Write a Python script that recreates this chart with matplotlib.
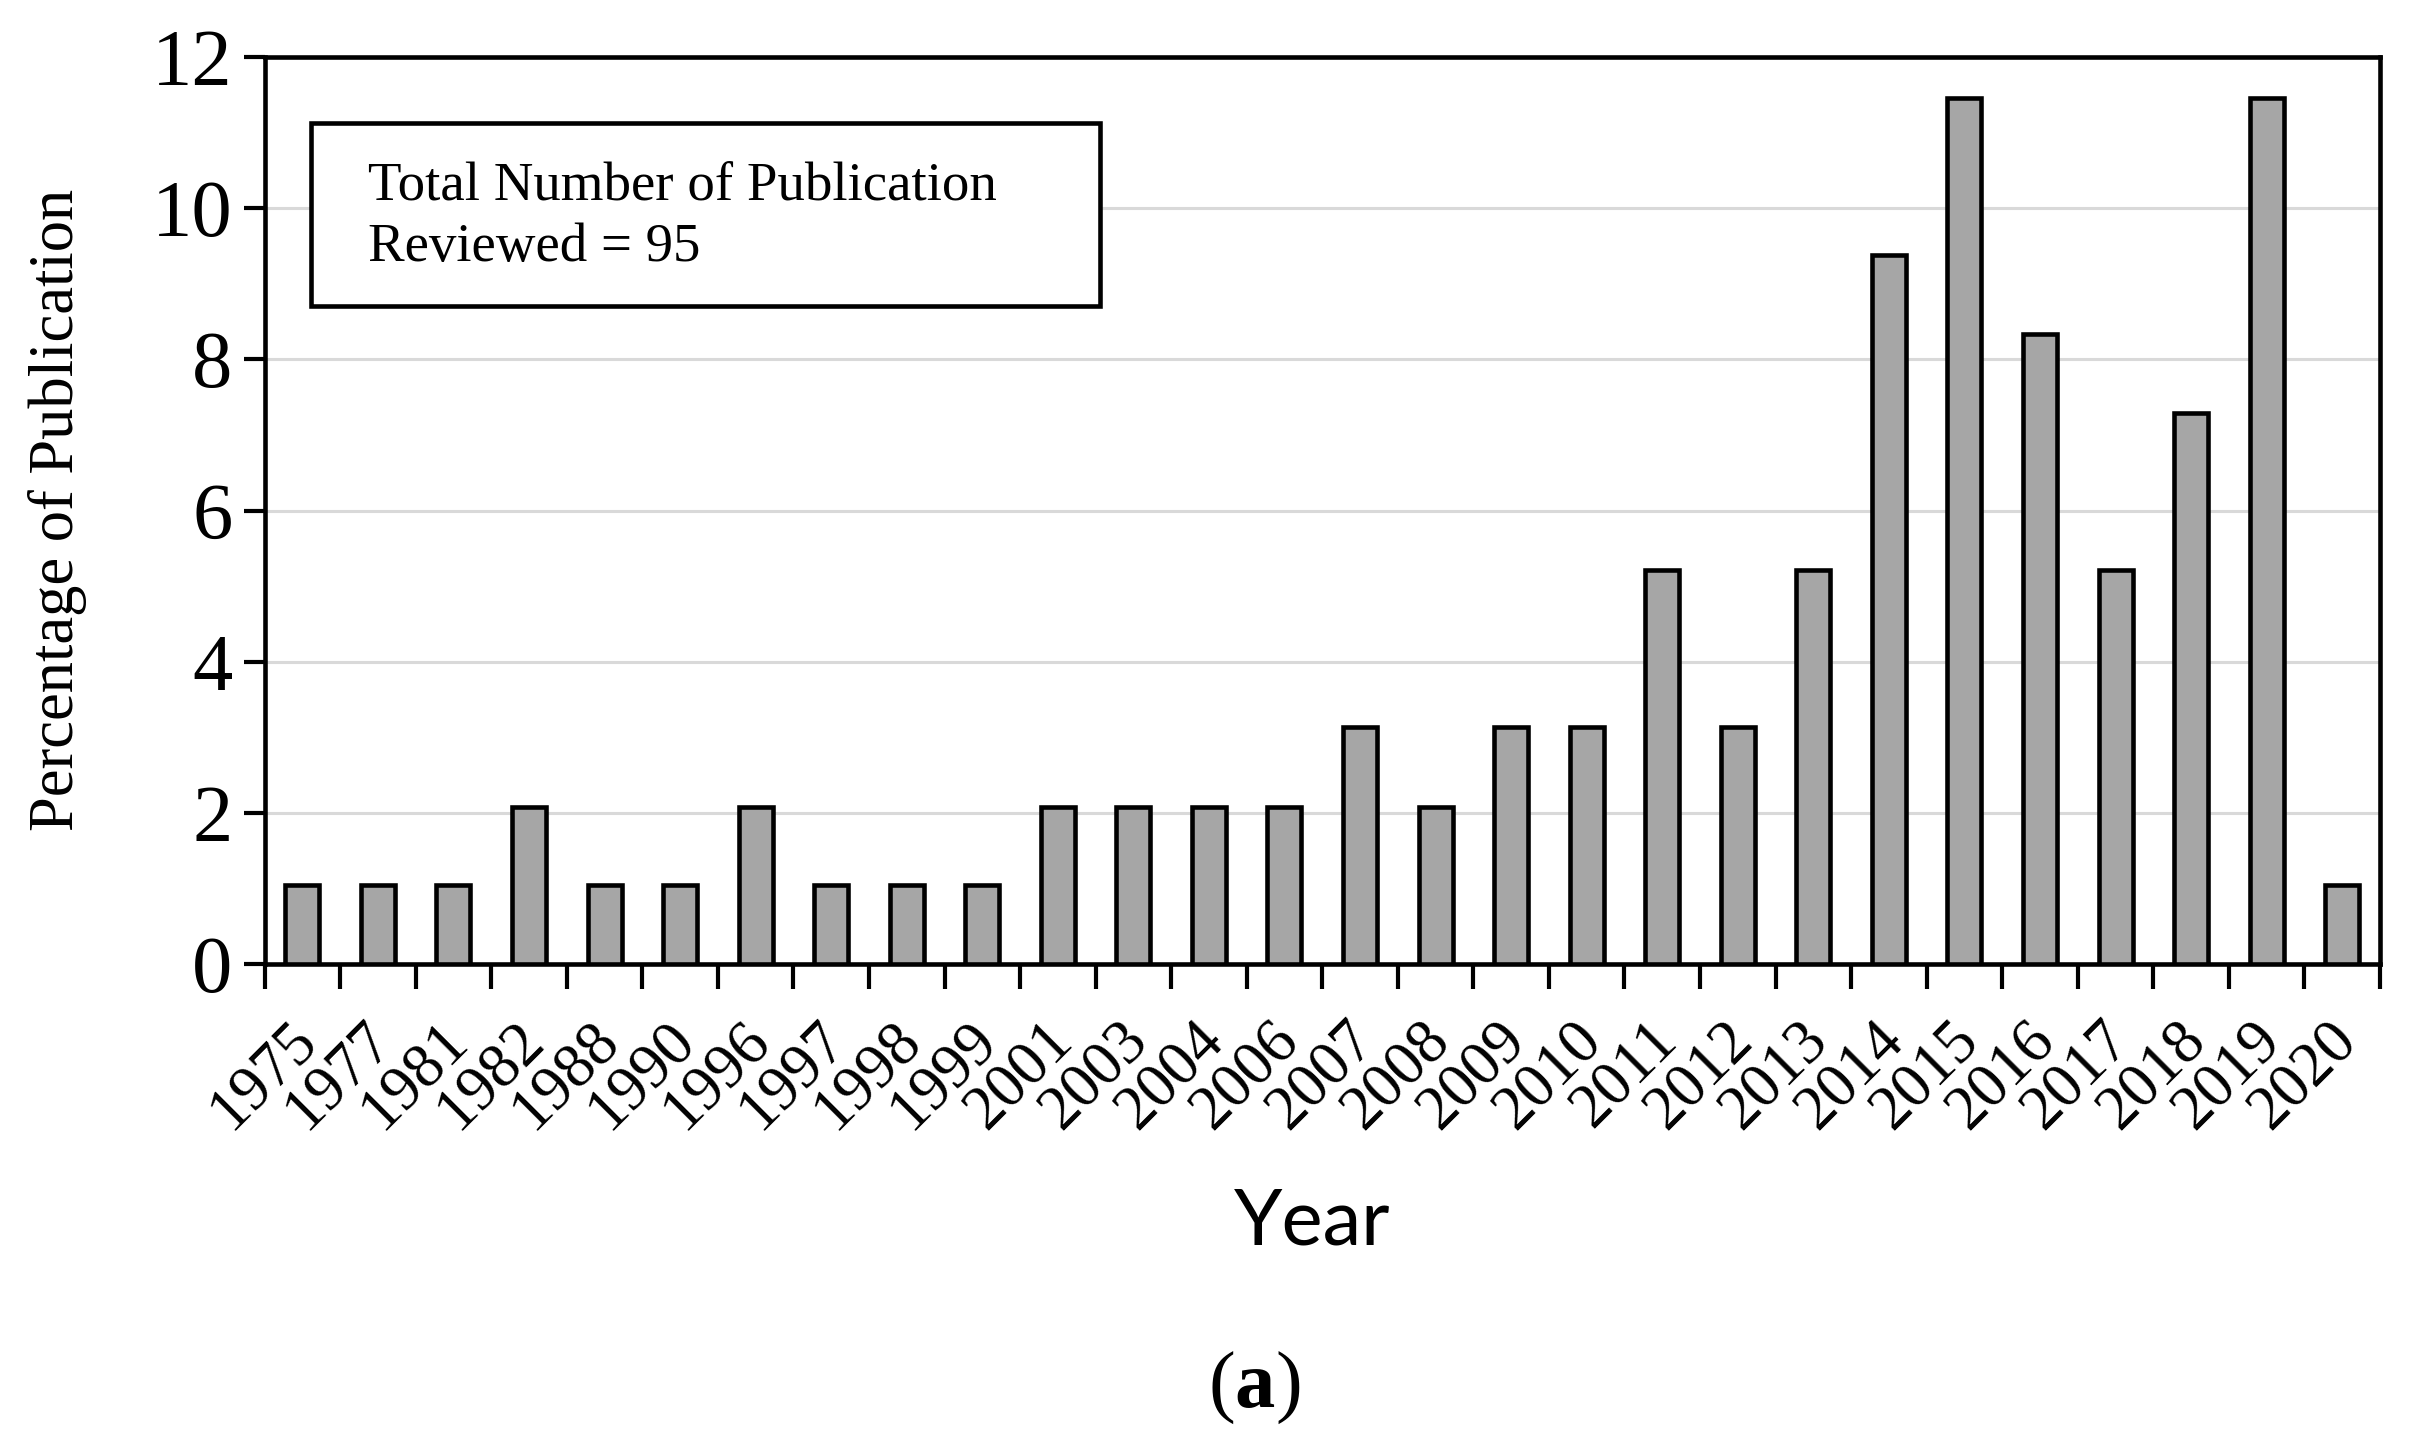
import numpy as np
import matplotlib
matplotlib.use('Agg')
import matplotlib.pyplot as plt
from matplotlib.patches import Rectangle
from matplotlib.transforms import ScaledTranslation

plt.rcParams['font.family'] = ['Liberation Serif', 'DejaVu Serif']
plt.rcParams['mathtext.fontset'] = 'custom'
plt.rcParams['mathtext.rm'] = 'Liberation Serif'
plt.rcParams['mathtext.bf'] = 'Liberation Serif:bold'

# 数据：每年出版物占比 (%)
years = ['1975', '1977', '1981', '1982', '1988', '1990', '1996', '1997', '1998', '1999',
         '2001', '2003', '2004', '2006', '2007', '2008', '2009', '2010', '2011', '2012',
         '2013', '2014', '2015', '2016', '2017', '2018', '2019', '2020']
percent = [1.04, 1.04, 1.04, 2.08, 1.04, 1.04, 2.08, 1.04, 1.04, 1.04,
           2.08, 2.08, 2.08, 2.08, 3.13, 2.08, 3.13, 3.13, 5.21, 3.13,
           5.21, 9.38, 11.46, 8.33, 5.21, 7.29, 11.46, 1.04]
y_ticks = [0, 2, 4, 6, 8, 10, 12]

fig = plt.figure(figsize=(24.12, 14.46), dpi=100)
ax = fig.add_axes([0.1097, 0.3333, 0.877, 0.6273])

x = np.arange(len(years))
ax.bar(x, percent, width=0.45, color='#a6a6a6', edgecolor='black',
       linewidth=3.3, zorder=3)

ax.set_xlim(-0.5, len(years) - 0.5)
ax.set_ylim(0, 12)
ax.set_yticks(y_ticks)
ax.yaxis.grid(True, color='#d9d9d9', linewidth=2.2, zorder=0)
ax.set_axisbelow(True)

# x 轴刻度在类别边界，标签在类别中心
ax.set_xticks(np.arange(len(years) + 1) - 0.5)
ax.set_xticklabels([])
ax.set_xticks(x, minor=True)
ax.set_xticklabels(years, minor=True, rotation=45, ha='right', va='top',
                   rotation_mode='anchor', fontsize=45)
ax.tick_params(axis='x', which='major', direction='out', length=18, width=3)
ax.tick_params(axis='x', which='minor', length=0, pad=34)
ax.tick_params(axis='y', direction='out', length=15, width=3, labelsize=58, pad=8)

# 标签稍微左移
shift = ScaledTranslation(-0.15, 0, fig.dpi_scale_trans)
for lab in ax.get_xticklabels(minor=True):
    lab.set_transform(lab.get_transform() + shift)

for sp in ax.spines.values():
    sp.set_linewidth(3.3)

# 文本框
ax.add_patch(Rectangle((0.022, 0.725), 0.373, 0.202, transform=ax.transAxes,
                       facecolor='white', edgecolor='black', linewidth=3.3, zorder=5))
ax.text(0.049, 0.857, 'Total Number of Publication', transform=ax.transAxes,
        fontsize=39.5, va='center', ha='left', zorder=6)
ax.text(0.049, 0.790, 'Reviewed = 95', transform=ax.transAxes,
        fontsize=39.5, va='center', ha='left', zorder=6)

fig.text(0.024, 1 - 510 / 1446, 'Percentage of Publication', rotation=90,
         ha='center', va='center', fontsize=45)
fig.text(0.544, 0.154, 'Year', ha='center', va='center', fontsize=56,
         family=['Lato', 'DejaVu Sans'])
fig.text(0.52, 0.04, r'($\mathbf{a}$)', ha='center', va='center', fontsize=58)

fig.savefig('out.png', dpi=100)
